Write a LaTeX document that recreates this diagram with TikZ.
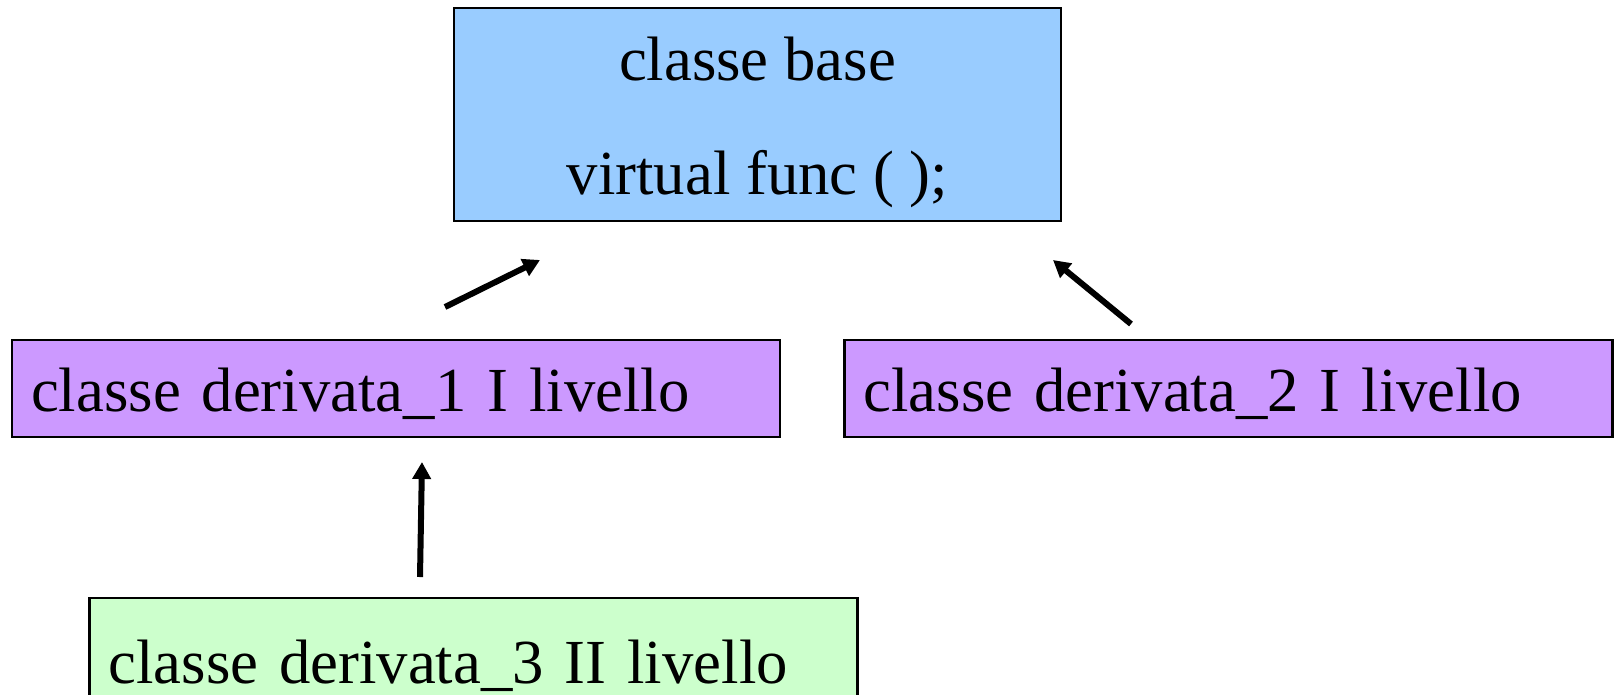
\documentclass[tikz,border=0pt]{standalone}
\usepackage{fontspec}
\setmainfont{Liberation Serif}
\usetikzlibrary{arrows.meta}

\definecolor{basecol}{HTML}{99CCFF}
\definecolor{primocol}{HTML}{CC99FF}
\definecolor{secondocol}{HTML}{CCFFCC}

\tikzset{
	classbox/.style={draw=black, line width=1.4pt, rectangle, inner sep=0pt, font=\fontsize{35.7}{43}\selectfont},
	derivbox/.style={classbox, text width=14.6cm, inner xsep=0.38cm, align=left, minimum height=1.94cm, text height=0.9cm, text depth=0pt},
	inherit/.style={-{Triangle[length=0.34cm, width=0.36cm]}, line width=0.12cm}
}

\begin{document}
\begin{tikzpicture}[x=0.02cm, y=-0.02cm]
	\useasboundingbox (0, 0) rectangle (1614, 694);

	% classe base
	\node[classbox, fill=basecol, minimum width=12.14cm, minimum height=4.26cm, align=center, font=\fontsize{35.7}{65.4}\selectfont, text height=3.22cm, text depth=0pt] (base) at (757.5, 114.5) {classe base\\virtual func ( );};

	% I livello
	\node[derivbox, fill=primocol] (deriv1) at (396, 388.5) {classe derivata\_1 I livello};
	\node[derivbox, fill=primocol] (deriv2) at (1228.5, 388.5) {classe derivata\_2 I livello};

	% II livello
	\node[derivbox, fill=secondocol, minimum height=2.5cm] (deriv3) at (473.5, 660.5) {classe derivata\_3 II livello};

	% frecce
	\coordinate (from1) at (445, 307);
	\coordinate (to1) at (540, 260);
	\coordinate (from2) at (1131, 324);
	\coordinate (to2) at (1053, 260);
	\coordinate (from3) at (420, 577);
	\coordinate (to3) at (422, 462);

	\draw[inherit] (from1) -- (to1);
	\draw[inherit] (from2) -- (to2);
	\draw[inherit] (from3) -- (to3);

\end{tikzpicture}
\end{document}
